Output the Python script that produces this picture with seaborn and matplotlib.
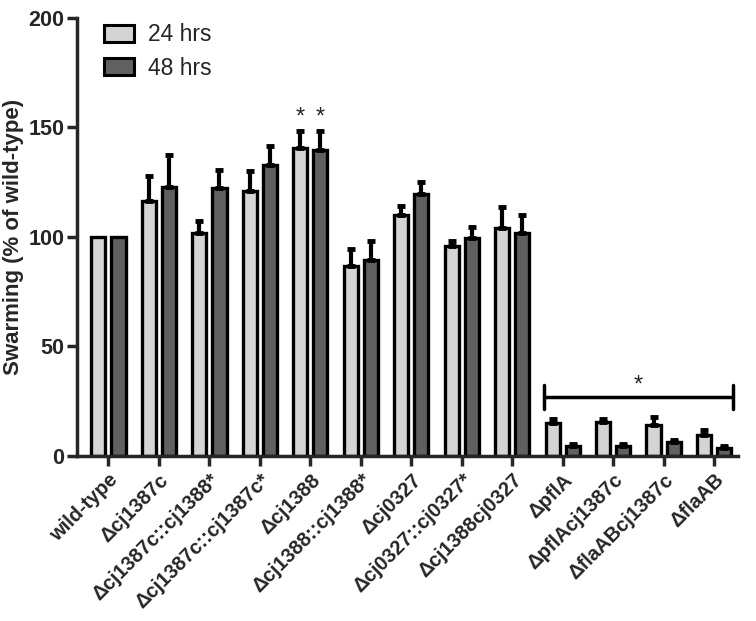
import matplotlib
matplotlib.use("Agg")
import matplotlib.pyplot as plt
import seaborn as sns
import pandas as pd
import numpy as np

# values
strains = ["wild-type", "Δcj1387c", "Δcj1387c::cj1388*", "Δcj1387c::cj1387c*",
           "Δcj1388", "Δcj1388::cj1388*", "Δcj0327", "Δcj0327::cj0327*",
           "Δcj1388cj0327", "ΔpflA", "ΔpflAcj1387c", "ΔflaABcj1387c", "ΔflaAB"]
mean_24 = [100, 116.3, 102, 121, 140.5, 86.8, 110, 96, 104, 15, 15.3, 14, 9.7]
mean_48 = [100, 123, 122.2, 133, 139.5, 89.3, 119.5, 99.3, 102, 4.6, 4.5, 6.3, 3.4]
err_24 = [0, 11.3, 5.2, 9, 8, 7.6, 4, 2, 9.8, 2, 1.6, 3.8, 2.2]
err_48 = [0, 14.2, 8.3, 8.6, 9, 9, 5.6, 5.2, 8, 1, 1, 0.9, 0.9]
timepoints = ["24 hrs", "48 hrs"]
colors = ["#d4d4d4", "#606060"]

df = pd.DataFrame({
    "strain": strains * 2,
    "swarming": mean_24 + mean_48,
    "time": [timepoints[0]] * len(strains) + [timepoints[1]] * len(strains),
})

sns.set_style("ticks")
plt.rcParams["font.family"] = ["Liberation Sans", "DejaVu Sans"]

fig = plt.figure(figsize=(7.56, 6.21), dpi=100)
ax = fig.add_axes([0.102, 0.266, 0.874, 0.705])

sns.barplot(data=df, x="strain", y="swarming", hue="time", palette=colors,
            width=0.8, gap=0.3, edgecolor="black", linewidth=2.4,
            errorbar=None, ax=ax)
c24, c48 = list(ax.containers)[:2]

# one-sided error bars on top of each bar
for cont, errs in zip([c24, c48], [err_24, err_48]):
    xs = np.array([p.get_x() + p.get_width() / 2 for p in cont])
    hs = np.array([p.get_height() for p in cont])
    e = np.array(errs)
    m = e > 0
    ax.errorbar(xs[m], hs[m], yerr=[np.zeros(m.sum()), e[m]], fmt="none",
                ecolor="black", elinewidth=3, capsize=3.2, capthick=3.5, zorder=1)

# significance marks
for cont, errs in zip([c24, c48], [err_24, err_48]):
    p = cont[4]
    ax.text(p.get_x() + p.get_width() / 2, p.get_height() + errs[4] + 1.0, "*",
            ha="center", va="bottom", fontsize=17)

left = c24[9].get_x() - 0.04
right = c48[12].get_x() + c48[12].get_width() + 0.04
ax.plot([left, right], [27, 27], color="black", lw=2.5, solid_capstyle="butt")
ax.plot([left, left], [21.5, 32.5], color="black", lw=2.5)
ax.plot([right, right], [21.5, 32.5], color="black", lw=2.5)
ax.text((left + right) / 2, 27.0, "*", ha="center", va="bottom", fontsize=17)

ax.set_ylim(0, 200)
ax.set_xlim(-0.62, 12.47)
ax.set_yticks([0, 50, 100, 150, 200])
ax.set_xlabel("")
ax.set_ylabel("Swarming (% of wild-type)", fontsize=16, fontweight="bold",
              labelpad=3)
ax.tick_params(axis="both", width=2.5, length=7, direction="out")
ax.tick_params(axis="y", labelsize=15.5, pad=2)
ax.set_xticks(range(len(strains)))
ax.set_xticklabels(strains, rotation=45, ha="right", rotation_mode="anchor",
                   fontsize=14.5, fontweight="bold")
for lab in ax.get_yticklabels():
    lab.set_fontweight("bold")
sns.despine(ax=ax)
for s in ["left", "bottom"]:
    ax.spines[s].set_linewidth(2.5)
ax.spines["left"].set_bounds(0, 200)

leg = ax.legend(loc="upper left", bbox_to_anchor=(0.01, 1.035), frameon=False,
                fontsize=16.5, handlelength=1.3, handleheight=0.8,
                labelspacing=0.45, handletextpad=0.6)
for h in leg.legend_handles:
    h.set_edgecolor("black")
    h.set_linewidth(2.2)

fig.savefig("out.png", dpi=100)
